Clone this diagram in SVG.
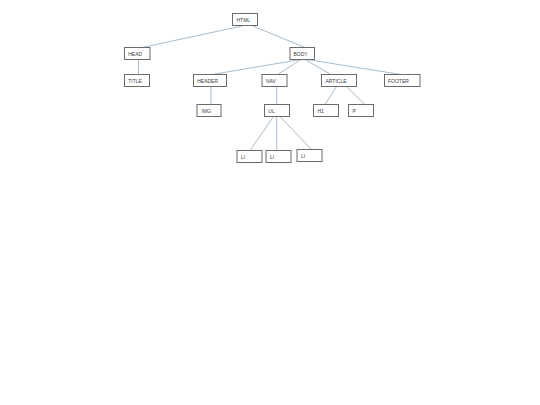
<svg xmlns="http://www.w3.org/2000/svg" width="540" height="405" viewBox="0 0 540 405">
<style>
.box{fill:#ffffff;stroke:#6b6b6b;stroke-width:1}
.lbl{font-family:"Liberation Sans",Arial,sans-serif;font-size:5px;fill:#404040}
.con{stroke:#a9bccb;stroke-width:1;fill:none}
</style>
<rect width="540" height="405" fill="#ffffff"/>
<g id="connectors">
<line class="con" x1="242" y1="26" x2="142" y2="47.5"/>
<line class="con" x1="253" y1="26" x2="305" y2="47.5"/>
<line class="con" x1="138.5" y1="59.5" x2="138.5" y2="74.5"/>
<line class="con" x1="301" y1="59.5" x2="212" y2="74.5"/>
<line class="con" x1="301" y1="59.5" x2="277.5" y2="74.5"/>
<line class="con" x1="305" y1="59.5" x2="331" y2="74.5"/>
<line class="con" x1="307" y1="59.5" x2="401" y2="74.5"/>
<line class="con" x1="211" y1="86.5" x2="211" y2="104.5"/>
<line class="con" x1="276.7" y1="86.5" x2="276.7" y2="104.5"/>
<line class="con" x1="336.5" y1="86.5" x2="325" y2="104.5"/>
<line class="con" x1="346.5" y1="86.5" x2="365" y2="104.5"/>
<line class="con" x1="273.5" y1="116.5" x2="250" y2="150.5"/>
<line class="con" x1="276.7" y1="116.5" x2="276.7" y2="150.5"/>
<line class="con" x1="280" y1="116.5" x2="311.5" y2="149.5"/>
</g>
<g id="html"><rect class="box" x="232.5" y="13.5" width="25" height="12"/><text class="lbl" x="236.5" y="21.5">HTML</text></g>
<g id="head"><rect class="box" x="124.5" y="47.5" width="25.5" height="12"/><text class="lbl" x="128.2" y="55.5">HEAD</text></g>
<g id="body"><rect class="box" x="290" y="47.5" width="24.5" height="12"/><text class="lbl" x="293.5" y="55.5">BODY</text></g>
<g id="title"><rect class="box" x="124.5" y="74.5" width="25" height="12"/><text class="lbl" x="128.2" y="82.5">TITLE</text></g>
<g id="header"><rect class="box" x="193.5" y="74.5" width="33" height="12"/><text class="lbl" x="197.2" y="82.5">HEADER</text></g>
<g id="nav"><rect class="box" x="262" y="74.5" width="25" height="12"/><text class="lbl" x="266" y="82.5">NAV</text></g>
<g id="article"><rect class="box" x="321.5" y="74.5" width="35" height="12"/><text class="lbl" x="325.5" y="82.5">ARTICLE</text></g>
<g id="footer"><rect class="box" x="384.5" y="74.5" width="35.5" height="12"/><text class="lbl" x="388" y="82.5">FOOTER</text></g>
<g id="img"><rect class="box" x="197" y="104.5" width="24" height="12"/><text class="lbl" x="201.5" y="112.5">IMG</text></g>
<g id="ul"><rect class="box" x="264.5" y="104.5" width="25" height="12"/><text class="lbl" x="268.3" y="112.5">UL</text></g>
<g id="h1"><rect class="box" x="313.5" y="104.5" width="25" height="12"/><text class="lbl" x="317.5" y="112.5">H1</text></g>
<g id="p"><rect class="box" x="348.5" y="104.5" width="25" height="12"/><text class="lbl" x="352.5" y="112.5">P</text></g>
<g id="li1"><rect class="box" x="237" y="150.5" width="25" height="12"/><text class="lbl" x="241" y="158.5">LI</text></g>
<g id="li2"><rect class="box" x="266" y="150.5" width="25" height="12"/><text class="lbl" x="270" y="158.5">LI</text></g>
<g id="li3"><rect class="box" x="297" y="149.5" width="25" height="12"/><text class="lbl" x="301" y="157.5">LI</text></g>
</svg>
